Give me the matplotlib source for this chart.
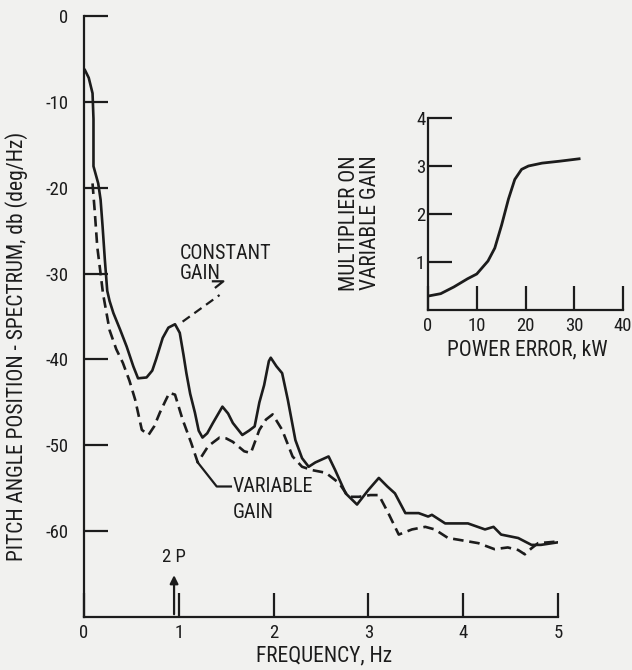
import matplotlib
matplotlib.use("Agg")
import matplotlib.pyplot as plt

plt.rcParams["font.family"] = ["Roboto Condensed", "Liberation Sans", "DejaVu Sans"]

# main spectrum, constant gain (solid)
freq_const = [0.01, 0.05, 0.09, 0.10, 0.10, 0.15, 0.175, 0.196, 0.22, 0.245, 0.27, 0.31, 0.38,
              0.45, 0.52, 0.57, 0.66, 0.72, 0.76, 0.83, 0.89, 0.96, 1.01, 1.05, 1.08,
              1.12, 1.17, 1.21, 1.25, 1.30, 1.36, 1.46, 1.52, 1.57, 1.67, 1.74, 1.80,
              1.85, 1.90, 1.95, 1.97, 2.03, 2.09, 2.15, 2.23, 2.30, 2.37, 2.44, 2.50,
              2.58, 2.65, 2.76, 2.88, 3.00, 3.11, 3.20, 3.28, 3.39, 3.53, 3.63, 3.67,
              3.81, 4.05, 4.23, 4.32, 4.40, 4.58, 4.72, 4.82, 5.00]
db_const = [-6.3, -7.2, -9.0, -12.0, -17.5, -19.5, -21.4, -24.5, -28.4, -32.0, -33.2, -34.6, -36.5,
            -38.5, -40.8, -42.2, -42.1, -41.3, -40.0, -37.5, -36.3, -35.9, -36.9, -39.5, -41.6,
            -44.0, -46.2, -48.3, -49.1, -48.6, -47.4, -45.5, -46.3, -47.4, -48.8, -48.3, -47.8,
            -45.0, -43.0, -40.2, -39.8, -40.8, -41.6, -44.7, -49.4, -51.5, -52.5, -52.0, -51.7,
            -51.3, -52.9, -55.6, -56.9, -55.2, -53.8, -54.8, -55.6, -57.9, -57.9, -58.3, -58.1,
            -59.1, -59.1, -59.8, -59.5, -60.4, -60.8, -61.6, -61.6, -61.3]

# variable gain (dashed)
freq_var = [0.09, 0.115, 0.14, 0.175, 0.20, 0.27, 0.34, 0.41, 0.48, 0.54, 0.61, 0.68,
            0.74, 0.80, 0.86, 0.90, 0.96, 1.04, 1.13, 1.20, 1.31, 1.43, 1.50, 1.57,
            1.69, 1.76, 1.85, 1.92, 1.99, 2.09, 2.20, 2.30, 2.41, 2.55, 2.69, 2.79,
            2.90, 3.02, 3.11, 3.21, 3.32, 3.46, 3.60, 3.70, 3.84, 3.95, 4.16, 4.33,
            4.47, 4.58, 4.65, 4.72, 4.79, 4.90, 5.00]
db_var = [-19.5, -23.0, -26.9, -30.0, -32.3, -36.6, -38.8, -40.4, -42.5, -44.7, -48.2, -48.8,
          -47.8, -46.2, -44.8, -43.9, -44.1, -47.0, -49.7, -52.0, -50.1, -49.1, -49.2, -49.6,
          -50.7, -50.9, -48.2, -47.0, -46.4, -48.2, -51.3, -52.5, -52.9, -53.2, -54.4, -56.0,
          -56.0, -55.8, -55.8, -57.9, -60.4, -59.8, -59.5, -59.8, -60.8, -61.0, -61.4, -62.1,
          -61.9, -62.2, -62.7, -62.0, -61.4, -61.3, -61.2]

# inset: multiplier vs power error
power_err = [0, 2.6, 5.3, 8.1, 10.0, 12.3, 13.7, 15.1, 16.5, 17.8, 19.2, 20.6, 23.4, 27.0, 31.0]
multiplier = [0.29, 0.34, 0.48, 0.65, 0.75, 1.02, 1.29, 1.77, 2.31, 2.72, 2.93, 3.0, 3.06, 3.1, 3.15]

x_ticks = [0, 1, 2, 3, 4, 5]
y_ticks = [0, -10, -20, -30, -40, -50, -60]
in_x_ticks = [0, 10, 20, 30, 40]
in_y_ticks = [1, 2, 3, 4]

ink = "#1c1c1c"
bg = "#f1f1ef"
fs = 13.5     # tick labels
fl = 15.5     # axis labels
fn = 14.5     # notes on the curves

fig = plt.figure(figsize=(6.32, 6.70), dpi=100, facecolor=bg)
ax = fig.add_axes([84 / 632, 53 / 670, 474 / 632, 601 / 670])
ax.set_facecolor(bg)
ax.plot(freq_const, db_const, color=ink, lw=1.9, solid_joinstyle="round")
ax.plot(freq_var, db_var, color=ink, lw=1.9, linestyle=(0, (4, 2.2)))
ax.set_xlim(0, 5)
ax.set_ylim(-70, 0)
for s in ["top", "right"]:
    ax.spines[s].set_visible(False)
for s in ["left", "bottom"]:
    ax.spines[s].set_color(ink)
    ax.spines[s].set_linewidth(1.6)
ax.set_xticks(x_ticks)
ax.set_yticks(y_ticks)
ax.set_yticklabels([str(v) for v in y_ticks])
ax.tick_params(direction="in", length=17, width=1.6, colors=ink, labelsize=fs)
ax.tick_params(axis="y", pad=11)
ax.tick_params(axis="x", pad=5)

# annotations
ax.text(1.01, -28.8, "CONSTANT\nGAIN", fontsize=fn, color=ink, va="center", ha="left", linespacing=1.1)
ax.plot([1.04, 1.43], [-35.6, -32.5], color=ink, lw=1.6, linestyle=(0, (4, 2.5)))
ax.plot([1.36, 1.47, 1.39], [-30.9, -30.9, -31.6], color=ink, lw=1.6)
ax.text(1.57, -54.8, "VARIABLE", fontsize=fn, color=ink, va="center", ha="left")
ax.text(1.57, -57.8, "GAIN", fontsize=fn, color=ink, va="center", ha="left")
ax.plot([1.20, 1.40, 1.55], [-52.0, -54.8, -54.8], color=ink, lw=1.6)
ax.annotate("", xy=(0.95, -64.8), xytext=(0.95, -70),
            arrowprops=dict(arrowstyle="-|>", color=ink, lw=1.6, mutation_scale=12))
ax.text(0.95, -63.0, "2 P", fontsize=fs, color=ink, ha="center", va="center")

fig.text(17 / 632, 1 - 346 / 670, "PITCH ANGLE POSITION - SPECTRUM, db (deg/Hz)",
         rotation=90, fontsize=fl, color=ink, ha="center", va="center")
fig.text(324 / 632, 1 - 656 / 670, "FREQUENCY, Hz", fontsize=fl, color=ink, ha="center", va="center")

# inset
ins = fig.add_axes([428 / 632, 360 / 670, 195 / 632, 192 / 670])
ins.set_facecolor("none")
ins.plot(power_err, multiplier, color=ink, lw=2.0)
ins.set_xlim(0, 40)
ins.set_ylim(0, 4)
for s in ["top", "right"]:
    ins.spines[s].set_visible(False)
for s in ["left", "bottom"]:
    ins.spines[s].set_color(ink)
    ins.spines[s].set_linewidth(1.6)
ins.set_xticks(in_x_ticks)
ins.set_yticks(in_y_ticks)
ins.tick_params(direction="in", length=17, width=1.6, colors=ink, labelsize=fs)
ins.tick_params(axis="y", pad=2)
ins.tick_params(axis="x", pad=5)
fig.text(360 / 632, 1 - 223 / 670, "MULTIPLIER ON\nVARIABLE GAIN", rotation=90, fontsize=fl,
         color=ink, ha="center", va="center", multialignment="center", linespacing=1.0)
fig.text(527 / 632, 1 - 350 / 670, "POWER ERROR, kW", fontsize=fl, color=ink, ha="center", va="center")

fig.savefig("out.png", dpi=100, facecolor=bg)
